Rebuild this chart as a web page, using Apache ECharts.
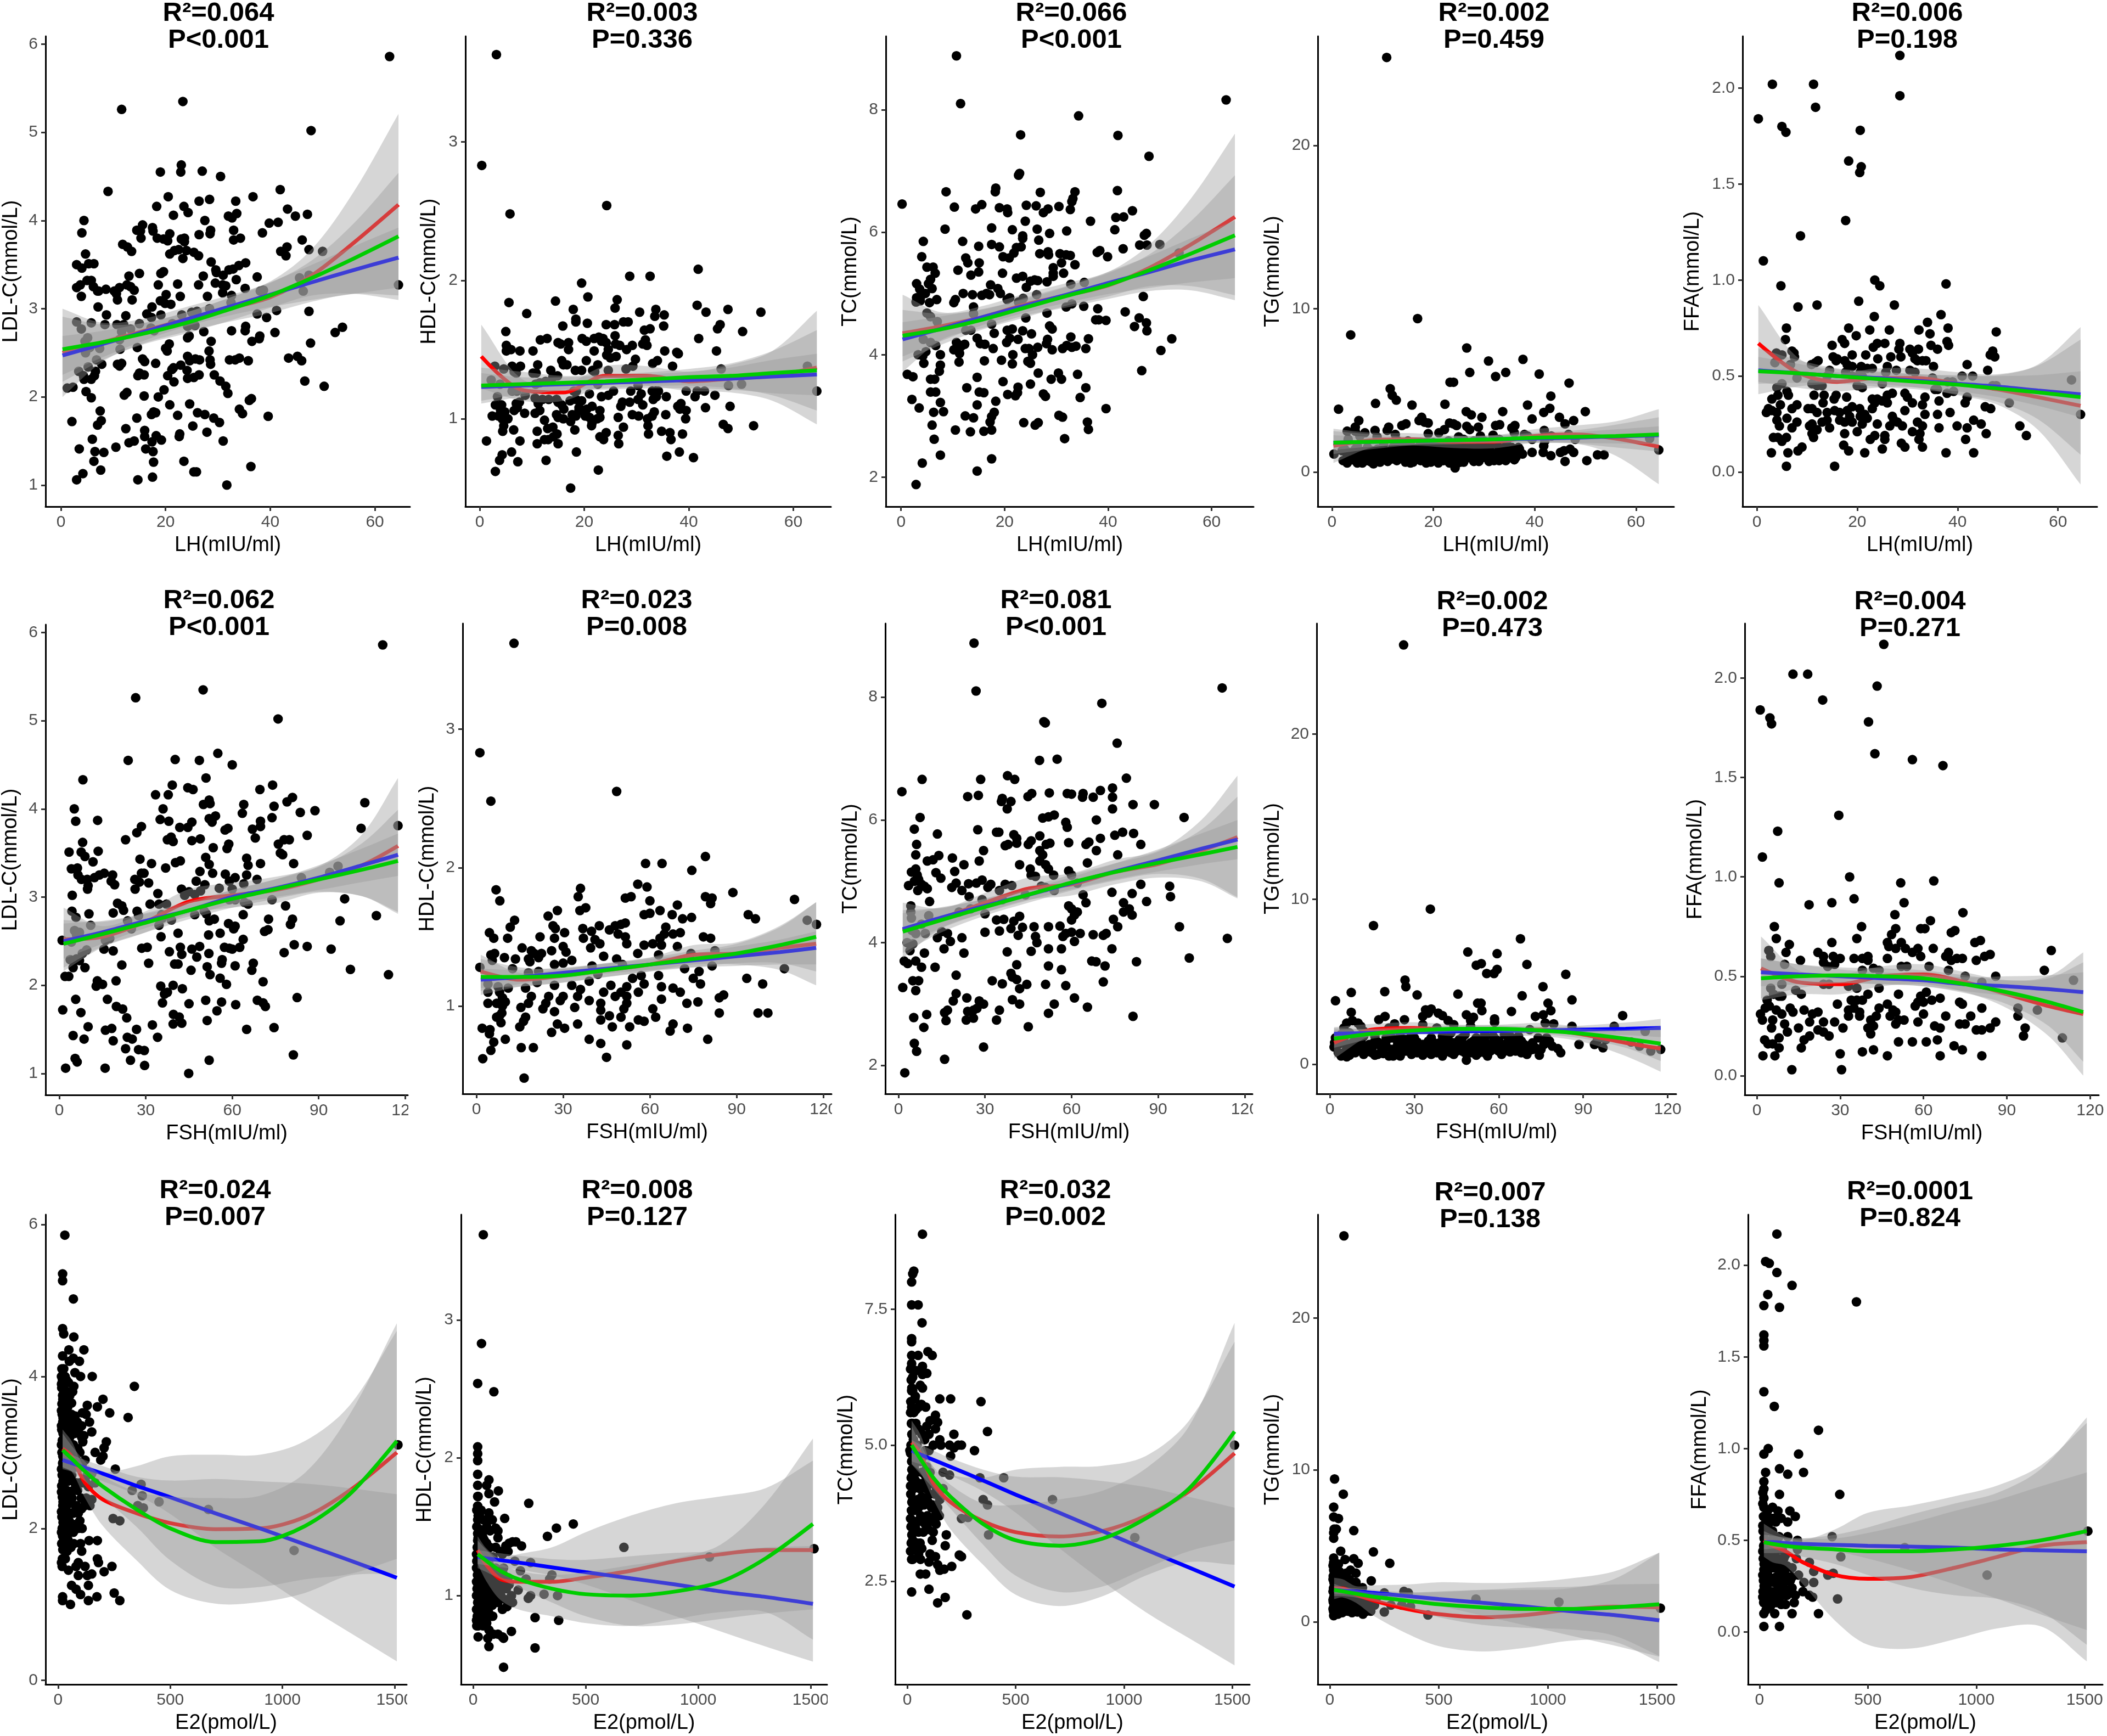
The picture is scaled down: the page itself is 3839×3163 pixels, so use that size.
<!DOCTYPE html>
<html>
<head>
<meta charset="utf-8">
<style>html,body{margin:0;padding:0;background:#fff}#main{width:3839px;height:3163px}</style>
<script src="https://cdn.jsdelivr.net/npm/echarts@6/dist/echarts.min.js"></script>
</head>
<body>
<div id="main"></div>
<script>
// x samples the fitted curves were read at
const lhX = [0.3,8,16,24,32,40,48,56,64.5];
const fshX = [1.5,15,30,45,60,75,90,105,117.5];
const e2X = [20,60,120,200,350,500,700,900,1100,1300,1510];

const lhTicks = [0,20,40,60];
const fshTicks = [0,30,60,90,120];
const e2Ticks = [0,500,1000,1500];

// scatter points, one list per panel
const lhLdl = [[62.8,5.86],[23.3,5.35],[11.6,5.26],[47.8,5.02],[23,4.63],[22.9,4.55],[19,4.55],[27,4.56],[30.5,4.5],[9,4.33],[41.9,4.35],[20.5,4.27],[36.7,4.27],[26.4,4.22],[28.4,4.24],[33.4,4.22],[18.3,4.16],[23.5,4.16],[24.3,4.09],[21.5,4.06],[32,4.05],[32.7,4.03],[33.6,4.08],[43.3,4.13],[44.8,4.05],[47.1,4.07],[4.4,4],[27.5,4],[39.8,3.97],[41.5,3.98],[15.6,3.95],[14.5,3.89],[17.5,3.92],[4,3.86],[15.2,3.88],[15.3,3.8],[17.6,3.88],[18.4,3.8],[19.6,3.79],[20.4,3.77],[20.8,3.85],[23,3.79],[23.6,3.8],[23.6,3.76],[26.4,3.84],[28.6,3.89],[28.5,3.85],[33,3.89],[33,3.78],[34.3,3.8],[38.5,3.86],[46.1,3.78],[11.8,3.73],[12.7,3.7],[13.5,3.65],[4.7,3.62],[20.8,3.62],[21.7,3.66],[22.5,3.67],[23.3,3.57],[24,3.66],[25.4,3.64],[26.3,3.6],[28.7,3.53],[42,3.65],[43.2,3.7],[43,3.6],[47.4,3.67],[50,3.65],[3,3.5],[4,3.46],[5.3,3.51],[6.3,3.51],[35.3,3.52],[34,3.49],[32.1,3.44],[32.9,3.45],[15,3.4],[19.1,3.4],[19.6,3.42],[13,3.37],[29.6,3.44],[29.7,3.41],[27.2,3.37],[31,3.38],[33.5,3.33],[37.5,3.36],[5,3.32],[5.8,3.32],[45.6,3.35],[47.4,3.38],[3,3.24],[3.7,3.27],[6.2,3.25],[7,3.2],[7.2,3.2],[8.6,3.22],[10.2,3.2],[11.2,3.24],[12.6,3.27],[13.3,3.25],[14,3.21],[18.6,3.27],[22.3,3.28],[26.3,3.27],[29.5,3.29],[30.9,3.27],[31.5,3.26],[35.2,3.23],[38.1,3.2],[38.7,3.21],[46.3,3.2],[64.5,3.27],[3.9,3.14],[10.6,3.17],[10.8,3.1],[13.6,3.1],[20.1,3.16],[22.8,3.14],[28,3.14],[30.9,3.18],[32.6,3.15],[19,3.09],[19.9,3.06],[21,3.05],[17.4,3.02],[7.1,3.02],[28.4,3],[32.5,3.07],[41.2,2.98],[47.4,2.97],[8.7,2.93],[12.4,2.92],[16.4,2.94],[17.3,2.9],[19.1,2.93],[23.1,2.93],[25,2.96],[26,2.97],[37.5,2.94],[39.3,2.9],[3,2.85],[5.8,2.84],[8.4,2.82],[10.7,2.82],[12,2.82],[15,2.83],[21.3,2.83],[35.3,2.8],[25.6,2.81],[24.2,2.8],[3.9,2.77],[11.6,2.74],[13.3,2.77],[17.2,2.78],[17.8,2.75],[27.3,2.74],[32.6,2.75],[35.2,2.75],[40.9,2.73],[52.4,2.73],[53.8,2.79],[24.5,2.69],[24.2,2.67],[4.6,2.63],[5.1,2.67],[11.2,2.65],[28.7,2.63],[36.5,2.63],[38,2.69],[37.9,2.66],[47.7,2.61],[20.7,2.6],[20,2.55],[20.3,2.52],[14.6,2.56],[5.5,2.56],[7.4,2.55],[11.3,2.54],[28.3,2.52],[4.7,2.5],[24.2,2.46],[24.6,2.41],[25.7,2.43],[26.5,2.42],[15.6,2.43],[16,2.4],[32.2,2.42],[33.3,2.42],[34.1,2.44],[35.8,2.41],[28.5,2.42],[43.5,2.44],[45.2,2.46],[46,2.41],[6.8,2.42],[7.8,2.37],[11.6,2.38],[10.8,2.37],[18.1,2.38],[28.6,2.37],[5.2,2.34],[11.2,2.35],[21.5,2.33],[21.2,2.31],[22.9,2.36],[24.1,2.3],[3.4,2.29],[6.4,2.24],[6.6,2.29],[4.3,2.24],[4.4,2.2],[5.8,2.2],[14.7,2.24],[15,2.27],[15.9,2.25],[20.4,2.24],[21.6,2.17],[24.2,2.21],[25.4,2.22],[26.4,2.25],[29.3,2.25],[30.4,2.18],[31.5,2.12],[46.6,2.18],[50.3,2.12],[1.2,2.1],[2.3,2.11],[4.8,2.06],[12.1,2.02],[12.6,2.05],[19.7,2.08],[31.9,2.04],[5.8,1.99],[15.9,2.01],[18.6,2],[36,1.96],[36.4,1.98],[20.8,1.91],[24.6,1.92],[2.1,1.72],[7.5,1.84],[17.3,1.8],[17.7,1.83],[18.1,1.82],[22.3,1.79],[26.1,1.82],[27.5,1.8],[34.1,1.86],[34.7,1.81],[39.6,1.78],[14.5,1.76],[29.2,1.76],[7,1.68],[7.7,1.73],[25.2,1.67],[30.3,1.71],[12.4,1.64],[16,1.62],[16,1.55],[22.7,1.58],[22.6,1.55],[18.2,1.56],[27.9,1.6],[6,1.52],[13,1.48],[14,1.5],[17.4,1.49],[19.2,1.51],[31,1.5],[10.5,1.43],[3.5,1.41],[6.5,1.38],[8.2,1.37],[16.2,1.41],[17.6,1.38],[6.3,1.27],[17.7,1.26],[23.5,1.27],[7.6,1.17],[36.3,1.21],[4.2,1.13],[3,1.06],[14.7,1.06],[17.5,1.09],[25.4,1.15],[25.9,1.15],[31.7,1]];
const lhHdl = [[3.2,3.63],[0.4,2.83],[5.8,2.48],[24.3,2.54],[41.8,2.08],[28.7,2.03],[32.6,2.03],[19.5,1.98],[5.6,1.84],[14.5,1.85],[20.7,1.88],[26.3,1.86],[25.9,1.8],[17.9,1.79],[33.7,1.79],[41.6,1.82],[43.3,1.77],[47.5,1.79],[53.8,1.77],[9,1.76],[30.6,1.77],[35.3,1.75],[33.5,1.74],[18.4,1.72],[18.4,1.7],[20.6,1.69],[24.2,1.68],[25.8,1.68],[27.5,1.7],[28.4,1.7],[15.9,1.67],[35.2,1.67],[46,1.68],[45.5,1.65],[31.5,1.64],[32.6,1.65],[50.3,1.63],[5,1.63],[25.9,1.6],[41.9,1.58],[11.6,1.57],[12.9,1.58],[19.6,1.58],[20.4,1.56],[21.9,1.58],[22.8,1.59],[23.6,1.58],[23.3,1.56],[24.2,1.55],[31.7,1.57],[15,1.55],[15.5,1.54],[17,1.55],[17,1.5],[26,1.54],[26.8,1.53],[28.1,1.5],[29.2,1.53],[31.2,1.54],[32,1.53],[5.1,1.53],[5.1,1.49],[6,1.5],[7.7,1.49],[10.2,1.49],[21.9,1.49],[35.4,1.49],[37.7,1.48],[38,1.47],[45.3,1.49],[24.6,1.5],[24.3,1.46],[25,1.44],[26.1,1.45],[29.8,1.43],[15.7,1.42],[16,1.39],[16.7,1.39],[20.4,1.42],[22.6,1.39],[33.1,1.4],[34,1.42],[6.2,1.38],[7.8,1.38],[11.1,1.39],[2.9,1.38],[4.6,1.36],[6.6,1.34],[7,1.33],[10.2,1.33],[10.8,1.33],[13.6,1.35],[18.3,1.35],[19.5,1.35],[21.6,1.35],[22,1.34],[24.6,1.35],[28,1.36],[29.3,1.38],[36.9,1.38],[46.2,1.36],[62.7,1.38],[2.2,1.28],[3.9,1.25],[6.2,1.2],[7.1,1.2],[8.7,1.17],[10.7,1.25],[11.5,1.26],[12.6,1.27],[14,1.3],[14.9,1.31],[18,1.2],[18.5,1.2],[21,1.18],[22.6,1.25],[23.3,1.16],[24.6,1.17],[25.6,1.2],[28.9,1.2],[30.3,1.24],[30.9,1.18],[33,1.2],[33.7,1.2],[34.2,1.2],[39.5,1.2],[41.6,1.2],[43,1.2],[47.6,1.24],[50.1,1.25],[64.5,1.2],[3.4,1.16],[10.6,1.15],[12,1.14],[13.2,1.14],[14.7,1.14],[17.3,1.13],[18.4,1.14],[19.5,1.13],[30.3,1.14],[33.2,1.14],[33.8,1.16],[35.7,1.16],[41.2,1.16],[45,1.17],[3,1.1],[4.2,1.1],[7,1.11],[7.6,1.12],[11.2,1.11],[15,1.12],[15.7,1.1],[19,1.08],[21.5,1.09],[27.3,1.12],[27,1.09],[28.7,1.12],[31.2,1.1],[37.9,1.09],[38.5,1.11],[38.3,1.07],[43.2,1.08],[47.9,1.09],[4,1.06],[4.8,1.05],[6.6,1.06],[7.2,1.08],[8.6,1.04],[10.6,1.04],[11.5,1.06],[16.1,1.07],[19,1.06],[20.5,1.07],[23,1.06],[33.4,1.05],[39.5,1.06],[2.4,1.02],[3.6,1.02],[4.3,1],[5.4,1],[14.7,1.03],[15,1.01],[16,1],[17.7,1.03],[18.4,1.02],[20.2,1.02],[21,1.01],[23,1.01],[26.5,1.01],[29.2,1.03],[30.4,1.02],[32.1,1],[33,1.02],[35.6,1.03],[39.4,1],[12.4,0.99],[17.4,0.98],[21.5,0.97],[21.4,0.95],[22.5,1],[4.6,0.95],[32.2,0.95],[46.6,0.96],[47.5,0.93],[52.4,0.95],[14,0.94],[13,0.93],[6.5,0.92],[11,0.91],[4.4,0.91],[18.2,0.92],[14.8,0.89],[14.1,0.87],[24.2,0.9],[23,0.87],[23.7,0.85],[26.5,0.88],[27.5,0.94],[32.3,0.89],[34.8,0.91],[36.4,0.9],[36.6,0.85],[38.8,0.89],[1.3,0.84],[7.7,0.84],[11,0.82],[12.4,0.85],[13.1,0.85],[15,0.82],[26.6,0.82],[6.1,0.76],[18.5,0.76],[4.3,0.74],[3.8,0.7],[7.3,0.69],[12.7,0.7],[35.8,0.73],[38.2,0.76],[40.9,0.72],[3,0.62],[22.7,0.63],[17.4,0.5]];
const lhTc = [[10.7,8.88],[11.5,8.1],[34.3,7.9],[62.8,8.16],[23.1,7.59],[41.9,7.58],[47.9,7.24],[22.9,6.96],[22.7,6.93],[18.3,6.72],[18.2,6.66],[8.7,6.66],[26.9,6.65],[33.6,6.66],[41.8,6.68],[0.2,6.46],[10.3,6.41],[15.6,6.45],[14.4,6.38],[19,6.4],[20.5,6.38],[20.6,6.32],[24.2,6.44],[26.1,6.43],[27.5,6.32],[28.4,6.38],[30.5,6.42],[32.7,6.37],[33,6.5],[33.2,6.55],[44.7,6.35],[43,6.25],[41.5,6.24],[24,6.18],[36.6,6.18],[17.5,6.07],[21.5,6.04],[26.3,6.05],[32,6.02],[28.7,5.98],[8.5,6.05],[41.3,6.04],[47.4,5.98],[47,5.95],[23.5,5.94],[23.5,5.9],[26.6,5.87],[4.3,5.85],[11.9,5.85],[17.5,5.8],[19,5.76],[15,5.77],[23.2,5.76],[22.3,5.75],[21.8,5.66],[20.9,5.58],[19.7,5.6],[26.8,5.65],[28.4,5.68],[28.5,5.63],[30.7,5.65],[31.9,5.63],[32.7,5.62],[37.9,5.67],[38.4,5.7],[39.9,5.6],[42.9,5.73],[46.1,5.79],[47.5,5.79],[50,5.8],[53.7,5.66],[4,5.6],[12.5,5.58],[12.9,5.5],[15.1,5.5],[31,5.5],[33.6,5.47],[29.4,5.42],[5,5.43],[6.2,5.43],[11,5.38],[6.6,5.33],[15,5.35],[19.6,5.33],[31.4,5.33],[29.4,5.33],[29.4,5.28],[13.5,5.3],[22.3,5.25],[23.5,5.28],[5.7,5.23],[5.3,5.16],[3,5.16],[25,5.2],[25.8,5.22],[26.4,5.21],[28.2,5.19],[32.8,5.15],[35.4,5.18],[17.3,5.14],[18.7,5.08],[6,5.08],[3.6,5.07],[24.2,5.1],[19.2,5],[12,5],[13.8,4.98],[16.5,5],[15.6,4.97],[17.1,4.98],[4.7,5],[3,4.93],[3.7,4.92],[26.2,4.98],[20.5,4.9],[21,4.93],[10.5,4.9],[10.2,4.85],[6.9,4.9],[2.9,4.86],[3.7,4.88],[5.5,4.85],[22.7,4.86],[23.6,4.92],[35.3,4.79],[33,4.83],[31.9,4.78],[38,4.75],[14,4.78],[5,4.68],[14,4.67],[28.2,4.68],[5.7,4.62],[24.1,4.6],[46,4.6],[43.3,4.7],[46.8,4.95],[37.6,4.57],[38.2,4.57],[39.6,4.56],[47.4,4.52],[17.5,4.5],[7,4.54],[28.7,4.47],[45.1,4.46],[47.5,4.39],[29.2,4.42],[23.5,4.39],[21.5,4.42],[20.5,4.4],[12.5,4.4],[13.5,4.4],[18,4.35],[25.2,4.34],[14.7,4.27],[21,4.27],[22.6,4.25],[28.3,4.25],[28.1,4.18],[32.8,4.29],[36.2,4.26],[52.3,4.26],[4.3,4.25],[5.7,4.2],[6.7,4.15],[10.7,4.2],[11.8,4.15],[12.3,4.17],[15.3,4.18],[16.2,4.17],[20.4,4.2],[17.8,4.1],[24,4.1],[24.7,4.1],[26.4,4.12],[31.2,4.1],[32,4.15],[33,4.12],[33.8,4.14],[35.7,4.1],[10.2,4.08],[11.2,4.08],[11.3,4.02],[4.8,4.05],[3.3,4],[4.2,3.98],[7.6,4],[21.6,4],[25.4,4],[29.2,4.08],[50.2,4.07],[16.1,3.9],[19.4,3.91],[24.5,3.89],[25,3.86],[11.2,3.88],[7.6,3.83],[4.4,3.86],[21.5,3.85],[7.4,3.73],[46.5,3.74],[1.2,3.68],[2.3,3.64],[26.5,3.7],[30.4,3.7],[5.7,3.6],[6.5,3.6],[14.7,3.63],[19.7,3.56],[29,3.6],[31,3.6],[25,3.52],[34.1,3.68],[12.7,3.46],[22.6,3.47],[35.7,3.46],[5.7,3.39],[6.7,3.39],[15.1,3.39],[16,3.38],[22.5,3.38],[22.1,3.33],[20.6,3.35],[27.5,3.36],[27.9,3.32],[2.1,3.27],[34.6,3.3],[7.6,3.22],[14.7,3.18],[18.3,3.24],[3.5,3.13],[6.3,3.06],[8.2,3.07],[12.4,3],[18,3.06],[17.5,2.99],[30.5,3.01],[31.2,2.98],[39.6,3.12],[14,2.97],[17.2,2.9],[6,2.85],[23.7,2.89],[25.9,2.85],[26.5,2.89],[36,2.9],[36.2,2.78],[10.5,2.77],[13.4,2.74],[16,2.75],[17.5,2.77],[31.6,2.63],[6.4,2.62],[7.6,2.36],[17.5,2.3],[4.1,2.23],[14.7,2.1],[2.9,1.88]];
const lhTg = [[10.8,25.4],[16.9,9.4],[3.7,8.4],[26.6,7.6],[30.9,6.8],[37.7,6.9],[27.2,6.1],[34.3,6.1],[32.3,5.85],[40.9,6],[23.3,5.5],[24,5.5],[46.8,5.45],[11.5,5.1],[11.9,4.7],[12.7,4.4],[43.2,4.65],[8.6,4.2],[15.8,4.1],[22.3,4.15],[38.6,4.1],[43,3.9],[1.3,3.85],[26.5,3.7],[27.5,3.5],[33.7,3.7],[41.8,3.65],[50,3.7],[29.6,3.35],[17.7,3.35],[17.2,3.15],[18.3,3.05],[19,3],[5.3,3.15],[39.5,3.25],[44.9,3.35],[47.7,3.15],[14.6,2.95],[13.8,2.85],[23.2,3],[24,2.95],[24.6,2.85],[26.6,2.8],[27.2,2.6],[28.9,2.75],[32.3,2.85],[33.1,2.9],[36.1,2.85],[35.5,2.7],[46,2.95],[11.2,2.75],[10.9,2.55],[8.5,2.55],[3,2.5],[4.6,2.5],[4.6,2.75],[6.5,2.4],[22.2,2.6],[21.1,2.4],[19,2.35],[41.9,2.55],[36,2.4],[12.5,2.3],[38.6,2.2],[31.8,2.25],[29.3,2.2],[25,2.15],[3.2,2],[5.5,2.2],[8.9,2.15],[0.4,1.1],[2.2,0.7],[3,0.55],[4.2,1],[5,0.55],[5.5,1],[6.5,0.9],[7,0.7],[7.8,0.6],[8.6,1.1],[9,0.9],[10.2,0.85],[11,1.2],[12,1],[13.2,1.3],[14,0.85],[14.5,0.6],[15,0.8],[16,0.6],[16.5,1.1],[17.5,0.7],[18,1.1],[19,0.9],[19.5,0.6],[20.5,0.9],[21,0.55],[22,0.7],[23,1.1],[23.7,0.75],[24.3,0.25],[24.8,0.55],[25.5,0.9],[26,0.6],[27,1.2],[27.5,0.85],[29,0.65],[29.5,1.3],[30.5,1.1],[31,0.65],[32,0.7],[32.5,1],[33.5,1.2],[34.3,0.7],[35,0.9],[36,0.75],[36.5,1.1],[37.6,1.1],[39.5,1.2],[41.7,1.2],[43.2,1],[45.1,1.2],[46,0.65],[47.7,1.2],[50.3,0.7],[52.4,1.05],[53.7,1.05],[64.5,1.35],[62.7,2.05],[2.5,1.4],[5,1.6],[7,1.5],[8,1.3],[10.2,1.7],[12,1.5],[14,1.5],[15.5,1.3],[17,1.5],[18,1.4],[20,1.3],[21.5,1.4],[22.5,1.6],[24,1.4],[25,1.7],[26.4,1.5],[28,1.5],[29,1.6],[30,1.4],[31.5,1.7],[33,1.5],[34,1.4],[35.5,1.5],[36.8,1.5],[41.8,1.6],[47,1.4],[45.8,1.3],[2,1.3],[3.5,1.2],[6,1.25],[9.5,1.3],[15,1],[16,1.2],[19,1.2],[20.5,1.1],[22,1],[24,1],[25,1.1],[27,1],[28.5,0.9],[30,0.9],[31.5,1.2],[33,1],[35,1.25],[14,1.15],[12,1.15],[11,1],[6,0.75],[5,1.3],[13,1.9],[15,1.9],[17.5,1.8],[20,1.8],[23,1.9],[26,2],[28,1.9],[30,1.9],[33,2],[39.5,2],[42,1.9],[46.7,2.3],[43.3,2.2],[48,2],[38,2.3],[3.5,0.9],[4.6,1.4],[6,0.55],[7.5,1.1],[8.2,0.5],[9.5,0.6],[10.5,1.3],[11.8,0.8],[12.8,0.7],[13.5,1],[14.5,1.3],[15.5,0.55],[16.3,0.8],[17,1],[17.8,1.3],[18.6,0.55],[19.3,1.5],[20.2,0.7],[21,1.2],[21.8,0.85],[22.6,1.3],[23.2,0.55],[24,0.55],[24.6,1.2],[25.3,0.6],[25.9,1.3],[26.6,0.85],[28,0.65],[28.6,1.25],[29.8,1],[31,1.4],[32,1.05],[33,0.7],[33.8,0.85],[34.8,1.05],[35.5,1.1],[36.3,0.9],[37,1.4],[13.5,1.7],[15.5,1.7],[19,1.65],[21,1.7],[23.5,1.6],[27.5,1.7],[30,1.7],[32.5,1.7],[34.5,1.7],[14.5,0.9],[16,0.95],[18.5,0.75],[20.2,1.25],[22.7,0.7],[25,0.8],[26.8,1.05],[8,0.85],[9,1.4],[10,1.1],[11,0.65],[4,0.75],[3,1.05]];
const lhFfa = [[28.5,2.17],[3.1,2.02],[11.3,2.02],[28.5,1.96],[11.7,1.9],[0.3,1.84],[5,1.8],[5.8,1.77],[20.6,1.78],[18.3,1.62],[20.8,1.59],[20.5,1.56],[17.7,1.31],[8.7,1.23],[1.3,1.1],[23.5,1],[24.5,0.97],[4.8,0.97],[37.7,0.98],[20.3,0.89],[27.4,0.87],[12,0.87],[8.2,0.86],[23.4,0.81],[36.7,0.82],[34,0.78],[5.9,0.75],[18.3,0.75],[22.5,0.74],[26.4,0.74],[32.3,0.74],[38.1,0.75],[47.7,0.73],[19.8,0.71],[34.5,0.72],[5.7,0.69],[17,0.69],[17.5,0.67],[15,0.66],[23.2,0.65],[24,0.67],[25.5,0.67],[28.5,0.67],[34.7,0.66],[36,0.64],[37.9,0.68],[38.2,0.66],[30.5,0.64],[31,0.62],[32.2,0.64],[28.3,0.64],[7,0.63],[7.5,0.6],[3.9,0.62],[5,0.61],[7.4,0.62],[15.2,0.6],[15.8,0.58],[16,0.59],[19,0.61],[21.7,0.61],[24.1,0.59],[26.7,0.6],[28.7,0.6],[47,0.63],[46.5,0.61],[47.4,0.6],[32,0.58],[33,0.58],[33.7,0.58],[31.5,0.59],[12.2,0.58],[11.7,0.57],[17.5,0.58],[18,0.56],[3.6,0.57],[6.7,0.56],[10.9,0.56],[19,0.55],[20.8,0.55],[22,0.54],[23,0.54],[26,0.55],[35.2,0.55],[41.9,0.56],[46,0.53],[14.5,0.53],[17.7,0.52],[20.6,0.52],[25.7,0.52],[27.8,0.53],[30.5,0.53],[31.5,0.52],[40.9,0.5],[43,0.5],[14,0.5],[19,0.5],[21,0.5],[35,0.49],[8,0.49],[38,0.47],[39,0.47],[47,0.45],[47.7,0.45],[62.7,0.48],[4,0.44],[5,0.46],[6,0.42],[11,0.46],[12,0.45],[13,0.45],[20,0.45],[21,0.44],[25,0.46],[35.5,0.43],[36,0.43],[39.2,0.42],[6.3,0.4],[4.2,0.4],[11.4,0.4],[13.4,0.4],[15.8,0.4],[17.9,0.39],[24,0.38],[26,0.4],[27,0.41],[29.5,0.41],[30,0.39],[23,0.38],[33.5,0.39],[37.9,0.41],[41.9,0.39],[3,0.38],[15.4,0.38],[23.5,0.36],[36.3,0.37],[25,0.37],[26,0.36],[10.2,0.33],[13.2,0.36],[11,0.33],[7,0.33],[8,0.35],[4.7,0.35],[31,0.36],[33,0.35],[41.5,0.36],[50.3,0.36],[2.3,0.33],[3,0.32],[1.9,0.31],[4,0.31],[12,0.31],[14,0.31],[15.5,0.32],[16.5,0.31],[18,0.32],[19,0.34],[20.5,0.33],[23,0.33],[29.5,0.32],[38.5,0.31],[45.5,0.34],[46.6,0.33],[64.5,0.3],[6,0.28],[4,0.27],[16.5,0.27],[18.5,0.29],[20.6,0.29],[21.5,0.3],[14,0.27],[27,0.29],[33.5,0.3],[36,0.3],[8,0.26],[11,0.25],[13,0.26],[17.5,0.26],[19,0.26],[21,0.25],[22,0.28],[24,0.25],[27.3,0.27],[28,0.26],[4.5,0.24],[7,0.23],[10.5,0.24],[12,0.22],[14.5,0.23],[20,0.21],[26.5,0.24],[29,0.24],[32,0.26],[33,0.24],[36.3,0.23],[39.9,0.24],[41.9,0.23],[43.2,0.27],[44.7,0.25],[52.4,0.24],[11,0.2],[3.3,0.18],[4.2,0.18],[17.5,0.2],[23.5,0.19],[25.5,0.19],[31,0.21],[32.5,0.2],[45.7,0.2],[53.7,0.19],[5,0.16],[5.9,0.18],[11.3,0.18],[22.6,0.17],[25.5,0.17],[32.3,0.17],[41.6,0.17],[17.3,0.14],[28.8,0.15],[9,0.13],[8.2,0.11],[2.9,0.1],[6.2,0.1],[18.3,0.11],[21.5,0.1],[25,0.12],[29.5,0.13],[33,0.13],[37.7,0.1],[43.2,0.1],[5.9,0.03],[15.5,0.03]];
const fshLdl = [[112.2,5.86],[49.9,5.35],[26.5,5.26],[75.9,5.02],[55,4.63],[60,4.5],[23.9,4.55],[40.2,4.56],[48.6,4.55],[50.9,4.35],[8.2,4.33],[39.2,4.27],[44.6,4.24],[46.4,4.22],[69.6,4.22],[74,4.27],[33.4,4.16],[37.8,4.16],[80.9,4.13],[79,4.08],[52,4.1],[50,4.05],[52.3,4.06],[64,4.05],[74.5,4.03],[106,4.07],[5.2,4],[36,4],[35,3.88],[38,3.86],[54.2,3.92],[52,3.89],[53,3.85],[63.5,3.95],[83.6,3.96],[88.7,3.98],[13.3,3.87],[5.7,3.86],[46,3.85],[69.8,3.86],[73.8,3.9],[67,3.77],[41.8,3.79],[44.6,3.79],[28.5,3.8],[26.9,3.73],[57.5,3.76],[58.5,3.78],[69.8,3.8],[104.7,3.78],[117.5,3.81],[23,3.65],[37.5,3.65],[38.8,3.68],[39.5,3.63],[46,3.64],[48.9,3.66],[68,3.67],[76,3.6],[78,3.65],[79.8,3.65],[86,3.7],[8.1,3.62],[58.8,3.6],[58.2,3.55],[53.4,3.56],[3.4,3.51],[13.5,3.52],[7.6,3.51],[8.9,3.46],[50.8,3.45],[76.7,3.5],[77.5,3.48],[65,3.44],[28,3.43],[11.7,3.4],[40.3,3.39],[42,3.41],[32,3.38],[52,3.37],[65.5,3.36],[69.8,3.38],[81.3,3.38],[96.7,3.35],[4.2,3.32],[6.3,3.33],[36.9,3.33],[29.4,3.27],[28.5,3.27],[48.8,3.29],[53.2,3.27],[13.9,3.25],[12.2,3.22],[15.6,3.27],[18.5,3.25],[57.6,3.26],[61,3.22],[65,3.25],[68.6,3.2],[84,3.22],[93.8,3.28],[6.5,3.25],[7.7,3.2],[9.7,3.2],[18,3.18],[26.2,3.2],[27.8,3.17],[31,3.16],[47.5,3.18],[59,3.18],[64,3.15],[50.5,3.14],[10,3.13],[19.2,3.14],[9.8,3.09],[26.3,3.09],[34.2,3.04],[4.5,3.02],[42.4,3.09],[55.5,3.1],[60,3.09],[43.5,3.02],[45,3.06],[47,3.03],[49,3.07],[73.8,2.97],[99,2.98],[20.2,2.93],[21.7,2.9],[31.5,2.92],[34.6,2.92],[37.2,2.92],[59,2.97],[61,2.97],[64.2,2.94],[65.5,2.92],[78.5,2.9],[22.3,2.85],[4.4,2.84],[10.3,2.81],[18.7,2.82],[27,2.84],[27.5,2.79],[35.5,2.8],[47,2.8],[50.3,2.84],[51,2.81],[63.8,2.8],[35.7,2.76],[38.9,2.74],[5.8,2.77],[23.7,2.73],[52,2.73],[53.8,2.75],[72.6,2.75],[80.9,2.75],[97.4,2.73],[110,2.79],[10.9,2.68],[25,2.64],[34.6,2.68],[58.7,2.7],[61,2.67],[60.5,2.64],[80.2,2.69],[5.3,2.62],[7,2.6],[72.4,2.63],[71.2,2.61],[41.2,2.59],[55.8,2.59],[51.8,2.57],[35.3,2.55],[6,2.57],[1,2.51],[4.2,2.49],[16,2.51],[17.5,2.53],[63.8,2.52],[28.6,2.42],[30.5,2.43],[42,2.43],[46,2.41],[48.7,2.44],[57.3,2.43],[59,2.42],[60,2.41],[62.6,2.43],[81.5,2.46],[86,2.44],[94.3,2.41],[15.5,2.41],[18.7,2.39],[38.2,2.38],[42.5,2.35],[51.9,2.36],[78,2.37],[3.8,2.29],[5,2.27],[6,2.3],[7,2.28],[8,2.36],[9.5,2.4],[47.7,2.32],[56.5,2.29],[56.3,2.25],[31,2.25],[21.7,2.23],[40,2.24],[41.2,2.24],[51.3,2.21],[61,2.22],[67.3,2.25],[8.9,2.2],[4.8,2.2],[45.7,2.17],[66.8,2.17],[101,2.18],[2,2.1],[3.3,2.1],[52.3,2.12],[114.2,2.12],[13.2,2.05],[13.5,2.03],[19.7,2.05],[55.8,2.08],[70.7,2.04],[12.8,1.99],[15,2.01],[35.2,1.99],[39.5,2],[58,2.01],[42.7,1.96],[36.5,1.9],[37.5,1.92],[5.7,1.84],[16.7,1.84],[50.8,1.83],[68.7,1.83],[82.5,1.86],[35.8,1.8],[45,1.79],[56.3,1.81],[61.2,1.78],[70.7,1.8],[19.8,1.76],[71.5,1.76],[1.2,1.72],[22,1.73],[54.7,1.71],[7.5,1.69],[39.6,1.67],[41.6,1.64],[23.4,1.63],[51.3,1.6],[39.5,1.56],[42.5,1.57],[32.3,1.55],[10,1.53],[26.8,1.5],[16,1.49],[18.2,1.51],[65,1.5],[74.5,1.52],[4.8,1.43],[8.6,1.39],[18.7,1.37],[23.6,1.41],[25.3,1.39],[34.1,1.41],[23,1.28],[27.5,1.27],[29.5,1.26],[5.5,1.17],[6.2,1.13],[24.7,1.15],[52,1.15],[81.2,1.21],[2.2,1.06],[15.9,1.06],[29.6,1.09],[44.9,1]];
const fshHdl = [[13,3.62],[1.2,2.83],[5,2.48],[48.5,2.55],[79.2,2.08],[58.5,2.03],[64.2,2.03],[74.5,1.98],[55.8,1.88],[59,1.86],[6.8,1.84],[36,1.85],[35.2,1.79],[8.1,1.76],[51.5,1.78],[53.5,1.79],[60,1.76],[79.2,1.79],[81.5,1.78],[81,1.74],[88.7,1.82],[110,1.77],[69.5,1.73],[37.8,1.71],[35.8,1.69],[28,1.69],[24.8,1.65],[58,1.66],[60,1.67],[63.5,1.69],[67.7,1.66],[71.3,1.63],[74.4,1.64],[94,1.66],[96.5,1.63],[114.4,1.62],[117.6,1.59],[13.2,1.62],[48,1.58],[50,1.59],[51.5,1.6],[26.5,1.58],[27.3,1.56],[30.5,1.53],[36.8,1.56],[39.8,1.54],[42.5,1.58],[46,1.55],[49,1.52],[65.5,1.57],[11.7,1.57],[4.5,1.53],[6,1.49],[10.8,1.49],[22,1.5],[27,1.49],[37,1.49],[41,1.48],[51.5,1.5],[68,1.52],[70.5,1.53],[63.5,1.49],[65,1.52],[78.5,1.5],[81,1.49],[15.8,1.42],[19,1.4],[22.5,1.38],[26,1.4],[30,1.43],[39.5,1.42],[42.7,1.45],[52,1.45],[58,1.44],[61,1.45],[64,1.44],[69.5,1.43],[74.2,1.38],[82.5,1.4],[5,1.37],[6.3,1.38],[9.7,1.35],[13.5,1.34],[18,1.34],[20,1.38],[21.5,1.35],[31,1.39],[33,1.33],[44,1.36],[48.5,1.34],[55.8,1.38],[63,1.37],[5.5,1.33],[18.5,1.32],[27,1.3],[30,1.31],[40,1.29],[50.5,1.3],[81.5,1.29],[106.5,1.27],[1.2,1.28],[12.5,1.27],[18,1.24],[21.5,1.25],[42,1.23],[54,1.2],[57,1.22],[63,1.22],[72,1.27],[75,1.2],[77,1.25],[93.5,1.2],[7.5,1.14],[4,1.16],[21,1.17],[27,1.15],[33,1.15],[39,1.18],[46.5,1.15],[52,1.14],[58,1.16],[64,1.14],[77.5,1.16],[99,1.16],[4,1.1],[8,1.1],[11,1.13],[17,1.13],[36,1.12],[44,1.1],[50,1.1],[56,1.1],[68,1.13],[70.5,1.1],[9,1.06],[19,1.07],[25,1.07],[30,1.07],[35,1.07],[48,1.07],[52,1.07],[85.5,1.08],[84,1.06],[4,1.02],[7,1.02],[10,1.03],[18,1.02],[24,1.02],[29,1.04],[39,1.04],[43,1.02],[52,1.02],[64,1.05],[72.8,1.02],[76.6,1.03],[9,1],[15.4,0.99],[23,0.98],[34,0.99],[43,0.97],[51,0.98],[61,0.98],[8,0.93],[8.8,0.95],[7,0.92],[17,0.92],[27,0.96],[46,0.93],[43,0.9],[50,0.92],[56,0.9],[62,0.92],[84,0.95],[97.4,0.95],[100.8,0.95],[8.5,0.88],[2,0.84],[4.7,0.83],[16.3,0.89],[15,0.85],[28,0.87],[30.5,0.84],[35,0.87],[53,0.85],[58,0.89],[68,0.87],[67,0.82],[73,0.84],[26,0.81],[47,0.85],[4.5,0.8],[10,0.76],[39,0.76],[43,0.73],[52,0.72],[80,0.76],[5,0.68],[6,0.74],[15.5,0.7],[19.7,0.7],[2.2,0.62],[45,0.63],[16.5,0.48]];
const fshTc = [[26.2,8.88],[26.9,8.1],[112.2,8.15],[70.5,7.9],[50.4,7.6],[50.9,7.58],[75.8,7.25],[48.9,6.97],[55,6.99],[8.2,6.66],[28.5,6.66],[37.8,6.72],[40.3,6.66],[79,6.68],[1.2,6.46],[24,6.38],[27.7,6.4],[36,6.35],[35.7,6.3],[39,6.3],[37.7,6.18],[44.9,6.38],[46.2,6.43],[52.3,6.44],[58.5,6.43],[60,6.42],[64,6.43],[63.8,6.37],[67.5,6.37],[70,6.48],[74.2,6.52],[74.2,6.37],[74.2,6.18],[81.3,6.25],[88.7,6.25],[7.5,6.04],[50,6.03],[52,6.05],[54,6.08],[58,5.96],[58.5,5.88],[68.6,6],[99,6.04],[5.5,5.85],[27.5,5.84],[34,5.8],[34.8,5.8],[40,5.76],[41,5.7],[13.5,5.77],[49,5.74],[75,5.75],[77.7,5.8],[81.5,5.78],[70,5.7],[6.3,5.6],[37,5.58],[38,5.6],[41,5.62],[45,5.6],[46,5.66],[51.2,5.6],[52.5,5.62],[59,5.63],[65,5.6],[66,5.64],[84,5.6],[6,5.43],[29.5,5.5],[49,5.5],[50,5.43],[14,5.42],[10,5.33],[12,5.35],[18.7,5.38],[28,5.33],[65.5,5.3],[68.6,5.5],[76,5.43],[22.7,5.27],[42,5.27],[49,5.33],[51,5.27],[52,5.2],[6,5.2],[4.5,5.15],[6.5,5.1],[13,5.14],[19.5,5.16],[45.7,5.2],[46,5.1],[47.5,5.08],[53.8,5.1],[59,5.17],[60,5.1],[14.7,5.05],[5.5,5],[7,5.03],[8,4.95],[20,4.97],[22,4.85],[24.3,4.96],[27,4.97],[29,5.02],[31,4.9],[32,4.95],[37,4.95],[39.3,4.93],[49.5,4.92],[51,4.9],[54,4.85],[62,4.97],[3.5,4.93],[6.7,4.85],[9,4.92],[10,4.88],[18.5,4.9],[24.5,4.75],[29,4.7],[35,4.85],[36,4.7],[44,4.78],[74,4.82],[81,4.8],[84,4.95],[94,4.92],[94.3,4.75],[10.8,4.67],[64,4.78],[65,4.65],[78,4.65],[86,4.67],[4.3,4.6],[4.3,4.5],[59,4.6],[60,4.55],[78,4.5],[80,4.55],[10.5,4.44],[21,4.5],[25,4.55],[30,4.47],[42,4.43],[61,4.45],[62,4.5],[81,4.45],[4.5,4.4],[60,4.37],[34,4.37],[36.5,4.38],[40,4.35],[74.5,4.38],[4.7,4.2],[8,4.3],[15,4.18],[30,4.17],[35,4.19],[39,4.23],[43,4.25],[47,4.26],[52,4.26],[56,4.27],[6,4.15],[9.3,4.15],[17,4.15],[41.5,4.12],[47.5,4.1],[58,4.15],[60,4.17],[63,4.15],[67.5,4.13],[71,4.12],[76,4.26],[97.4,4.26],[13.5,4.08],[18,4.02],[22,4.08],[48,4],[57,4.1],[61,4.02],[72,4.15],[114,4.07],[3,4],[5,3.98],[4,3.87],[15.8,3.9],[9,3.83],[22.7,3.83],[37.7,3.85],[46,3.86],[52,3.9],[56.5,3.9],[74,3.9],[2,3.7],[3.2,3.66],[6,3.7],[8,3.6],[12.7,3.6],[41,3.64],[52,3.62],[56.5,3.56],[67,3.7],[68.5,3.69],[71.6,3.62],[82.5,3.69],[100.8,3.75],[39,3.5],[20,3.47],[39.5,3.44],[41,3.4],[1.5,3.27],[5,3.38],[7,3.38],[32.5,3.38],[36,3.33],[44.5,3.32],[51,3.32],[58,3.3],[71,3.36],[6,3.22],[39.5,3.07],[20,3.17],[42,3.25],[42,3],[19,3.05],[23.7,3.1],[28,3.05],[29.5,3],[54,3],[61,3.1],[65.5,2.95],[17,2.9],[16,2.86],[24,2.88],[26,2.9],[27.2,2.93],[35,2.9],[52,2.85],[9.8,2.83],[5.3,2.78],[16.5,2.73],[23.5,2.74],[26,2.77],[34,2.74],[81.3,2.8],[8.8,2.62],[45,2.63],[5.5,2.36],[6.3,2.23],[29.5,2.3],[16,2.1],[2.2,1.88]];
const fshTg = [[26.2,25.4],[35.7,9.4],[15.5,8.4],[67.7,7.6],[49,6.8],[59.4,6.7],[52,6],[53.8,6.1],[70,6.05],[59.4,5.75],[55.7,5.5],[58.3,5.5],[83.8,5.45],[26.7,5.1],[27,4.7],[75.7,4.7],[19.5,4.4],[7.6,4.35],[31,4.2],[45.5,4.25],[68.3,4.15],[2,3.85],[86,3.9],[52.5,3.7],[53.7,3.7],[77.5,3.7],[36,3.35],[34,3.3],[64.5,3.2],[78.5,3.25],[7.6,3.15],[38.5,3.1],[40,2.95],[48.5,3],[51,2.85],[54,3.25],[75.8,3],[73,2.9],[19.6,2.9],[35,3.1],[104,2.95],[17.4,2.7],[26.5,2.7],[33,2.9],[42,2.65],[50,2.65],[58.5,2.75],[58.5,2.55],[76.5,2.5],[79.5,2.45],[6,2.5],[8,2.65],[10,2.5],[23,2.45],[33,2.4],[44,2.4],[86,2.3],[101,2.3],[5,2.2],[11,2.3],[21,2.2],[38,2.2],[50,2.3],[71,2.1],[112,2],[2,1.6],[4,1.8],[7,1.9],[12,2],[16,1.7],[20,1.6],[25,1.7],[29,1.8],[36,1.6],[43,1.9],[48,1.8],[55,1.8],[62,1.8],[67,1.7],[74,1.6],[77,1.6],[95,1.45],[98,1.5],[1.7,1.3],[1.5,1.05],[3,1.2],[5,0.7],[6,0.45],[7,0.9],[9,1.15],[11,1],[13,0.75],[14,1.2],[15,0.7],[17,1.35],[17,0.6],[19,0.9],[20,1.4],[22,0.9],[22.5,0.5],[24,0.7],[26,1.1],[27,1.5],[28,0.9],[30,1.1],[31,0.7],[33,0.55],[34,1],[35,1.4],[37,0.9],[38,0.7],[40,1.2],[41,0.75],[42,1.5],[43,1],[44,0.6],[45,1.2],[46,1.5],[47,0.8],[48.5,0.25],[50,1.3],[51,0.9],[52,0.55],[53,1.1],[54,0.9],[55,1.5],[56,0.5],[57,1.2],[59,1.5],[60,0.8],[61,1.1],[62,0.8],[63,1.3],[64,0.75],[65,0.9],[66,1.2],[70,1],[71,0.85],[74.4,0.55],[78,1.4],[79,1.1],[81,0.95],[82,0.7],[88.5,1.2],[94,1.2],[97,1],[107,1.35],[110,1.1],[114,0.8],[117.5,0.9],[9,1.6],[24,1.4],[32,1.2],[39,1.3],[47,1.6],[68,1.4],[72,1.3],[3,0.7],[4,0.5],[5,1.4],[6,1],[7,0.55],[8,1.3],[9,0.7],[10,0.9],[11,1.4],[12,0.6],[13,1.1],[14,0.8],[15,1],[16,0.55],[16,1.4],[18,1.1],[19,0.65],[20,1.1],[21,0.5],[23,0.9],[24,1.15],[25,0.5],[26,1.4],[27,0.8],[28,1.3],[29,0.6],[30,0.8],[31,1.35],[32,0.9],[33,1.2],[34,0.7],[35,0.9],[36,0.6],[37,1.3],[38,1.1],[39,0.8],[40,0.5],[41,1.4],[42,0.9],[43,0.7],[44,1.3],[45,0.8],[46,1.1],[47,1.3],[48,0.7],[49,1.1],[50,0.7],[51,1.4],[52,1],[53,0.7],[54,1.3],[55,0.7],[56,1.1],[57,0.8],[58,1.3],[59,0.9],[60,1.4],[61,0.6],[62,1.1],[63,0.9],[64,1.2],[65,1.4],[66,0.8],[67,1],[68,0.7],[69,1.2],[70,0.6],[72,0.9],[73,1],[75,0.9],[76,1.2],[12,1.7],[22,1.6],[30,1.6],[40,1.7],[52,1.6],[58,1.7],[64,1.7]];
const fshFfa = [[45.7,2.17],[13,2.02],[18.3,2.02],[43.3,1.96],[23.7,1.89],[1.2,1.84],[4.7,1.8],[5.3,1.77],[40.2,1.78],[42.5,1.62],[56,1.59],[67,1.56],[29.5,1.31],[7.5,1.23],[2,1.1],[33.4,1],[8,0.97],[51.8,0.97],[63.7,0.98],[18.8,0.86],[27,0.87],[35,0.89],[53,0.87],[49.7,0.81],[74.2,0.82],[6.3,0.75],[37.7,0.75],[50,0.74],[59,0.74],[60.5,0.74],[62.5,0.78],[7,0.69],[36,0.69],[48.5,0.71],[70,0.72],[71.3,0.73],[78.5,0.67],[80.5,0.68],[106,0.63],[11.7,0.66],[27,0.67],[47,0.67],[47.5,0.65],[52,0.67],[50,0.64],[53.5,0.64],[56,0.62],[58,0.64],[63.5,0.64],[4.3,0.63],[10.5,0.62],[5,0.6],[22,0.62],[24,0.6],[27.5,0.6],[30,0.59],[35,0.59],[38,0.59],[40,0.6],[40,0.58],[47,0.59],[59,0.6],[68,0.6],[69,0.62],[70,0.58],[72,0.59],[74,0.59],[79,0.58],[82,0.6],[84,0.61],[24,0.57],[15.7,0.58],[10,0.56],[25.5,0.55],[52,0.55],[54,0.55],[62,0.55],[42,0.54],[44,0.53],[28,0.56],[38,0.53],[69,0.53],[103.5,0.53],[86,0.5],[75,0.5],[81,0.47],[114,0.48],[9,0.46],[5,0.44],[6,0.41],[14,0.43],[16,0.41],[24,0.46],[26,0.46],[33,0.45],[36,0.44],[40,0.41],[44,0.44],[51,0.41],[59,0.4],[61,0.42],[63,0.38],[66,0.39],[8,0.4],[9,0.4],[3.7,0.38],[34,0.38],[36,0.38],[38,0.38],[57,0.35],[58,0.37],[60,0.37],[74,0.36],[73,0.37],[1.3,0.31],[3,0.34],[4.5,0.35],[7,0.33],[9,0.31],[12,0.34],[13,0.32],[17,0.33],[22,0.32],[29,0.36],[33,0.33],[35,0.34],[37,0.32],[44,0.34],[47,0.36],[49,0.33],[50,0.32],[60,0.31],[81,0.34],[94,0.34],[101,0.33],[2,0.28],[5.7,0.28],[10,0.26],[20,0.31],[24,0.27],[28,0.27],[31,0.24],[33,0.3],[37,0.3],[41,0.28],[43,0.3],[48,0.3],[51,0.28],[53,0.28],[58,0.27],[68,0.3],[77,0.3],[86,0.27],[94,0.3],[5.3,0.24],[8,0.19],[15,0.24],[19,0.27],[22,0.23],[24,0.22],[26,0.2],[40,0.24],[42,0.25],[50,0.26],[64,0.25],[66,0.24],[73,0.26],[75,0.26],[79,0.23],[81,0.23],[84,0.24],[96.6,0.24],[2.8,0.18],[4,0.16],[11,0.22],[19,0.2],[41,0.21],[56,0.17],[51,0.17],[61,0.17],[65,0.18],[96,0.2],[110,0.19],[5.7,0.16],[8,0.14],[17,0.18],[16,0.14],[71,0.15],[74,0.13],[2.2,0.1],[6.5,0.1],[30,0.11],[38,0.12],[42,0.13],[47,0.1],[66,0.1],[81,0.1],[12.6,0.03],[30.5,0.03]];
const e2Ldl = [[30,5.86],[20,5.35],[20,5.26],[68,5.02],[20,4.63],[25,4.56],[70,4.52],[48,4.35],[115,4.35],[20,4.27],[68,4.24],[95,4.2],[50,4.2],[25,4.1],[75,4.05],[100,4],[152,4],[340,3.87],[70,3.87],[40,3.8],[65,3.8],[200,3.7],[130,3.62],[175,3.6],[230,3.52],[108,3.52],[125,3.5],[312,3.46],[140,3.4],[60,3.5],[85,3.4],[105,3.35],[150,3.27],[115,3.22],[215,3.14],[205,3.06],[110,3.14],[165,3],[200,2.95],[190,2.9],[1515,3.1],[255,2.78],[150,2.72],[165,2.6],[330,2.5],[370,2.58],[375,2.43],[450,2.35],[355,2.3],[380,2.27],[670,2.25],[245,2.13],[275,2.1],[125,2.6],[150,2.38],[105,2.26],[90,2.2],[60,2.2],[1052,1.71],[138,1.84],[175,1.84],[100,1.8],[70,1.8],[105,1.7],[40,1.7],[175,1.6],[180,1.55],[120,1.5],[90,1.55],[80,1.5],[240,1.5],[205,1.43],[130,1.38],[150,1.4],[90,1.38],[60,1.25],[80,1.2],[100,1.13],[135,1.25],[20,1.1],[20,1.05],[55,1],[135,1.05],[173,1.1],[250,1.15],[275,1.05],[17,4.1],[19,3.96],[16,3.85],[20,3.75],[17,3.64],[18,3.5],[21,3.4],[16,3.3],[19,3.16],[17,3],[20,2.86],[18,2.7],[16,2.56],[19,2.41],[21,2.3],[17,2.15],[18,2],[20,1.9],[16,1.8],[19,1.6],[18,1.5],[31,4],[28,3.8],[33,3.6],[29,3.42],[32,3.2],[30,3.02],[34,2.8],[27,2.6],[31,2.4],[33,2.2],[29,2.02],[30,1.82],[32,1.6],[46,3.92],[43,3.6],[48,3.35],[44,3.1],[47,2.85],[42,2.62],[45,2.35],[49,2.1],[44,1.85],[46,1.45],[60,3.65],[63,3.3],[58,3],[61,2.7],[62,2.4],[59,2.05],[57,1.75],[76,3.48],[73,3.25],[78,2.95],[74,2.6],[77,2.3],[72,2.05],[91,3.3],[88,3.05],[93,2.8],[87,2.5],[92,2.25],[89,2],[105,3.2],[108,2.85],[103,2.4],[107,2],[120,2.9],[118,2.3],[130,2.7],[142,2.3],[135,2.55],[15,4],[15,3.9],[21,3.7],[15,3.55],[22,3.45],[15,3.35],[22,3.25],[15,3.1],[21,2.95],[15,2.78],[22,2.62],[15,2.48],[22,2.35],[15,2.22],[22,2.08],[15,1.95],[21,1.72],[15,1.55],[25,3.9],[25,3.7],[25,3.55],[25,3.3],[24,3.1],[25,2.9],[24,2.75],[25,2.5],[24,2.27],[25,2.12],[25,1.85],[38,3.95],[38,3.7],[38,3.5],[38,3.3],[38,3.1],[38,2.9],[38,2.7],[38,2.5],[38,2.3],[38,2.05],[38,1.8],[52,3.75],[52,3.45],[52,3.2],[52,2.95],[52,2.7],[52,2.45],[52,2.2],[52,1.95],[68,3.4],[68,3.1],[68,2.8],[68,2.5],[68,2.2],[68,1.95],[82,3.3],[82,2.9],[82,2.6],[82,2.3],[97,3],[97,2.6],[97,2.1],[112,2.6],[125,2.4]];
const e2Hdl = [[45,3.62],[37,2.83],[20,2.54],[92,2.48],[20,2.08],[20,2.03],[20,1.98],[20,1.88],[20,1.8],[20,1.72],[70,1.84],[60,1.8],[112,1.76],[70,1.74],[95,1.68],[247,1.67],[20,1.65],[35,1.62],[70,1.6],[20,1.55],[140,1.56],[445,1.52],[370,1.49],[100,1.49],[75,1.47],[110,1.47],[40,1.45],[110,1.42],[330,1.43],[20,1.4],[60,1.38],[175,1.39],[190,1.39],[160,1.38],[215,1.36],[145,1.36],[670,1.35],[1515,1.34],[20,1.3],[155,1.32],[30,1.25],[185,1.25],[255,1.24],[1050,1.28],[210,1.18],[135,1.2],[235,1.12],[350,1.15],[340,1.12],[155,1.13],[200,1.04],[255,1],[315,1.01],[375,1],[170,1],[245,0.98],[175,0.95],[150,0.92],[130,0.9],[110,0.95],[85,0.93],[275,0.84],[80,0.85],[380,0.82],[60,0.8],[70,0.75],[90,0.72],[170,0.74],[110,0.72],[130,0.7],[65,0.69],[135,0.69],[22,0.7],[70,0.63],[275,0.62],[135,0.48],[18,1.35],[16,1.25],[19,1.15],[17,1.05],[20,0.95],[18,0.85],[16,0.78],[28,1.3],[30,1.15],[27,1.02],[29,0.9],[38,1.35],[36,1.2],[40,1.08],[37,0.96],[39,0.84],[50,1.4],[48,1.26],[52,1.13],[49,1],[51,0.88],[62,1.3],[60,1.18],[64,1.05],[61,0.93],[75,1.35],[73,1.22],[77,1.1],[74,0.98],[88,1.28],[86,1.15],[90,1.03],[87,0.85],[100,1.2],[102,1.08],[98,1],[112,1.13],[114,1.03],[125,1.1],[123,1],[135,1.15],[137,1.05],[148,1.05],[146,0.97],[160,1.08],[60,1.5],[45,1.55],[30,1.48],[85,1.55],[30,1.6],[20,1.45],[75,1.55],[100,1.35],[120,1.32],[130,1.3],[22,1.72],[16,1.62],[22,1.58],[16,1.5],[22,1.42],[15,1.3],[22,1.3],[15,1.2],[22,1.2],[15,1.1],[22,1.1],[15,1],[22,1],[15,0.9],[22,0.9],[15,0.82],[22,0.78],[33,1.38],[33,1.22],[33,1.1],[33,0.98],[33,0.85],[44,1.42],[44,1.28],[44,1.15],[44,1.02],[44,0.9],[44,0.78],[56,1.35],[56,1.2],[56,1.08],[56,0.96],[56,0.85],[68,1.25],[68,1.12],[68,1],[68,0.88],[82,1.2],[82,1.08],[82,0.96],[94,1.12],[94,1],[106,1.15],[106,1.05],[118,1.08],[130,1.05]];
const e2Tc = [[70,8.88],[25,8.15],[30,8.2],[20,8],[20,7.58],[50,7.58],[68,7.25],[20,6.96],[20,6.9],[95,6.72],[115,6.65],[50,6.65],[20,6.65],[20,6.5],[70,6.45],[60,6.38],[40,6.37],[90,6.32],[70,6.3],[25,6.25],[60,6.1],[70,6.05],[150,5.85],[200,5.85],[340,5.8],[20,6],[35,5.85],[65,5.75],[85,5.7],[40,5.65],[20,5.7],[130,5.55],[105,5.45],[140,5.42],[90,5.35],[130,5.3],[370,5.25],[215,5.2],[100,5.2],[60,5.25],[20,5.4],[40,5.4],[150,5.1],[155,5],[195,5],[235,5],[250,5],[215,4.95],[310,4.9],[1510,5],[200,4.8],[100,4.9],[120,5],[165,4.5],[195,4.45],[335,4.4],[445,4.4],[165,4.2],[670,4],[350,4],[370,3.9],[140,3.85],[140,3.75],[250,3.65],[280,3.67],[120,3.4],[115,3.25],[375,3.35],[1050,3.3],[180,3.35],[175,3.15],[105,3],[100,2.85],[130,2.95],[140,2.8],[240,2.98],[250,2.95],[150,2.7],[170,2.72],[205,2.77],[60,2.63],[85,2.63],[20,2.3],[100,2.35],[175,2.2],[140,2.1],[275,1.88],[18,6.2],[16,5.8],[19,5.4],[17,5],[20,4.7],[18,4.4],[16,4.1],[19,3.8],[17,3.5],[18,3.2],[20,2.9],[30,5.6],[28,5.1],[32,4.6],[29,4.2],[31,3.8],[27,3.4],[33,3.1],[45,5],[43,4.5],[47,4],[44,3.6],[46,3.2],[60,4.7],[58,4.2],[62,3.7],[59,3.2],[61,2.9],[75,4.8],[73,4.3],[77,3.9],[74,3.4],[90,4.6],[88,4.2],[92,3.7],[105,4.5],[103,4.1],[107,3.6],[120,4.3],[118,3.9],[135,4.2],[133,3.55],[150,4],[148,3.7],[35,5],[50,5.3],[80,5.1],[12,4.9],[15,6.4],[21,6.05],[15,5.6],[21,5.2],[15,4.85],[21,4.55],[15,4.25],[21,3.95],[15,3.65],[21,3.35],[15,3.05],[25,6],[25,5.4],[25,4.9],[25,4.45],[25,4],[25,3.6],[25,3.25],[25,2.9],[37,5.9],[37,5.3],[37,4.8],[37,4.35],[37,3.9],[37,3.5],[37,3.15],[52,5.7],[52,4.75],[52,4.3],[52,3.85],[52,3.4],[52,3],[67,5.2],[67,4.5],[67,4.05],[67,3.6],[67,3.1],[82,4.9],[82,4.45],[82,4],[82,3.55],[97,4.4],[97,3.95],[97,3.45],[112,4.3],[112,3.85],[127,4.1],[127,3.7]];
const e2Tg = [[65,25.4],[22,9.4],[62,8.4],[18,7.55],[18,6.9],[40,6.8],[110,6],[20,6.1],[30,6.1],[18,5.85],[18,5.5],[50,4.65],[200,4.6],[18,4.2],[70,4.1],[110,4.15],[275,3.85],[130,3.85],[18,3.9],[40,3.8],[95,3.4],[190,2.7],[120,3.2],[150,2.25],[250,1.9],[340,2],[360,1.9],[670,1.5],[1050,1.3],[1515,0.9],[280,1.1],[330,1.1],[370,1],[450,0.45],[250,0.65],[18,3.4],[16,3],[19,2.6],[17,2.2],[20,1.9],[18,1.6],[16,1.3],[19,1],[17,0.7],[18,0.4],[30,3.4],[28,2.8],[32,2.3],[29,1.8],[31,1.4],[27,1],[33,0.6],[45,3.3],[43,2.6],[47,2],[44,1.5],[46,1.1],[42,0.7],[60,3.1],[58,2.5],[62,1.9],[59,1.4],[61,0.9],[57,0.6],[75,3.2],[73,2.3],[77,1.5],[74,1],[90,2.8],[88,2],[92,1.2],[87,0.7],[105,2.4],[103,1.6],[107,1],[102,0.6],[120,2.6],[118,1.8],[122,1.1],[135,2.2],[133,1.3],[137,0.8],[150,1.6],[148,0.9],[152,0.5],[170,1.2],[168,0.7],[190,1],[188,0.7],[205,1.1],[215,1.6],[15,3.7],[21,3.2],[15,2.8],[21,2.4],[15,2],[21,1.7],[15,1.45],[21,1.15],[15,0.85],[21,0.55],[24,3],[24,2.5],[24,2],[24,1.6],[24,1.2],[24,0.8],[24,0.5],[37,3],[37,2.5],[37,2],[37,1.6],[37,1.2],[37,0.8],[37,0.5],[52,2.8],[52,2.2],[52,1.7],[52,1.2],[52,0.8],[67,2.8],[67,2.1],[67,1.6],[67,1.2],[67,0.8],[82,2.4],[82,1.7],[82,1.1],[82,0.7],[97,2.2],[97,1.5],[97,1.05],[97,0.7],[112,2],[112,1.4],[112,0.8],[127,1.6],[127,1],[127,0.65],[142,1.2],[142,0.7],[160,1],[160,0.65]];
const e2Ffa = [[80,2.17],[28,2.02],[45,2.01],[80,1.96],[150,1.89],[38,1.84],[20,1.78],[92,1.77],[447,1.8],[20,1.62],[20,1.59],[20,1.56],[20,1.31],[68,1.23],[272,1.1],[40,1],[20,0.97],[180,0.97],[92,0.89],[130,0.86],[28,0.87],[203,0.87],[370,0.75],[92,0.75],[20,0.82],[20,0.78],[20,0.73],[140,0.66],[165,0.63],[60,0.68],[85,0.66],[20,0.68],[130,0.6],[100,0.62],[50,0.6],[75,0.6],[130,0.52],[175,0.5],[335,0.52],[670,0.46],[375,0.41],[1515,0.55],[175,0.45],[170,0.4],[230,0.38],[250,0.33],[150,0.35],[180,0.31],[315,0.31],[340,0.32],[1050,0.31],[250,0.27],[205,0.27],[150,0.24],[230,0.2],[245,0.19],[360,0.18],[200,0.22],[160,0.16],[150,0.1],[272,0.1],[70,0.1],[20,0.1],[20,0.03],[92,0.03],[100,0.15],[120,0.15],[50,0.14],[30,0.12],[18,0.63],[16,0.55],[19,0.47],[17,0.4],[20,0.34],[18,0.28],[16,0.22],[19,0.16],[30,0.6],[28,0.5],[32,0.42],[29,0.35],[31,0.28],[27,0.2],[45,0.55],[43,0.45],[47,0.38],[44,0.3],[46,0.22],[42,0.16],[60,0.55],[58,0.42],[62,0.35],[59,0.28],[61,0.2],[75,0.48],[73,0.38],[77,0.3],[74,0.22],[76,0.16],[90,0.52],[88,0.4],[92,0.33],[87,0.25],[91,0.18],[105,0.45],[103,0.35],[107,0.27],[102,0.2],[120,0.42],[118,0.34],[122,0.28],[119,0.2],[135,0.3],[133,0.22],[150,0.3],[148,0.24],[165,0.2],[15,0.58],[21,0.51],[15,0.44],[21,0.37],[15,0.31],[21,0.25],[15,0.19],[24,0.56],[24,0.46],[24,0.38],[24,0.32],[24,0.24],[24,0.18],[37,0.58],[37,0.48],[37,0.4],[37,0.33],[37,0.26],[37,0.18],[52,0.5],[52,0.43],[52,0.36],[52,0.29],[52,0.22],[52,0.16],[67,0.52],[67,0.43],[67,0.35],[67,0.27],[67,0.2],[82,0.45],[82,0.38],[82,0.3],[82,0.23],[97,0.45],[97,0.37],[97,0.29],[97,0.22],[112,0.4],[112,0.32],[112,0.24],[127,0.36],[127,0.28],[127,0.2],[142,0.28],[142,0.22],[15,0.7],[15,0.76],[37,0.66],[52,0.62],[67,0.62]];

// fitted curves: R red, B blue, G green, and their CI half widths (c)
const lhLdlR = [2.5,2.62,2.75,2.88,3,3.13,3.38,3.75,4.18], lhLdlRc = [0.5,0.22,0.14,0.14,0.15,0.18,0.3,0.58,1.03];
const lhLdlB = [2.47,2.6,2.74,2.88,3.02,3.16,3.3,3.44,3.58], lhLdlBc = [0.22,0.15,0.1,0.08,0.1,0.14,0.2,0.27,0.34];
const lhLdlG = [2.54,2.62,2.72,2.84,2.99,3.15,3.35,3.57,3.82], lhLdlGc = [0.37,0.2,0.12,0.12,0.13,0.14,0.2,0.4,0.72];
const lhHdlR = [1.45,1.21,1.19,1.31,1.31,1.27,1.29,1.31,1.37], lhHdlRc = [0.23,0.08,0.06,0.07,0.07,0.07,0.1,0.18,0.41];
const lhHdlB = [1.23,1.24,1.25,1.26,1.27,1.28,1.29,1.305,1.32], lhHdlBc = [0.1,0.06,0.05,0.05,0.05,0.06,0.08,0.12,0.15];
const lhHdlG = [1.24,1.25,1.26,1.27,1.285,1.3,1.31,1.33,1.35], lhHdlGc = [0.13,0.09,0.05,0.05,0.05,0.06,0.09,0.16,0.29];
const lhTcR = [4.35,4.47,4.62,4.82,4.97,5.13,5.42,5.8,6.25], lhTcRc = [0.63,0.22,0.18,0.18,0.2,0.22,0.38,0.75,1.36];
const lhTcB = [4.25,4.43,4.62,4.8,4.98,5.17,5.35,5.54,5.72], lhTcBc = [0.28,0.2,0.13,0.11,0.13,0.18,0.26,0.36,0.47];
const lhTcG = [4.31,4.42,4.58,4.77,4.96,5.14,5.38,5.65,5.95], lhTcGc = [0.42,0.25,0.16,0.16,0.16,0.19,0.26,0.53,0.98];
const lhTgR = [1.6,1.95,2,1.85,1.85,2.2,2.3,2.05,1.55], lhTgRc = [1.05,0.45,0.38,0.38,0.4,0.42,0.55,1.05,2.3];
const lhTgB = [1.8,1.85,1.9,1.95,2,2.05,2.1,2.18,2.25], lhTgBc = [0.45,0.3,0.2,0.18,0.2,0.25,0.33,0.43,0.55];
const lhTgG = [1.8,1.85,1.9,1.95,2,2.1,2.15,2.2,2.3], lhTgGc = [0.7,0.45,0.25,0.25,0.25,0.3,0.4,0.7,1.05];
const lhFfaR = [0.67,0.52,0.47,0.49,0.49,0.46,0.43,0.39,0.345], lhFfaRc = [0.2,0.08,0.05,0.05,0.05,0.06,0.08,0.17,0.41];
const lhFfaB = [0.53,0.515,0.5,0.49,0.475,0.46,0.445,0.425,0.405], lhFfaBc = [0.07,0.05,0.035,0.03,0.035,0.04,0.055,0.08,0.12];
const lhFfaG = [0.525,0.515,0.5,0.485,0.47,0.455,0.435,0.415,0.39], lhFfaGc = [0.12,0.07,0.04,0.04,0.04,0.05,0.07,0.14,0.3];
const fshLdlR = [2.52,2.55,2.72,2.95,3.02,3.08,3.2,3.36,3.58], fshLdlRc = [0.36,0.12,0.12,0.14,0.14,0.15,0.15,0.35,0.77];
const fshLdlB = [2.5,2.6,2.73,2.85,3,3.1,3.22,3.36,3.48], fshLdlBc = [0.2,0.13,0.08,0.07,0.08,0.1,0.14,0.19,0.24];
const fshLdlG = [2.47,2.58,2.71,2.85,2.98,3.09,3.2,3.31,3.41], fshLdlGc = [0.27,0.14,0.11,0.1,0.1,0.11,0.14,0.3,0.58];
const fshHdlR = [1.25,1.19,1.22,1.26,1.3,1.37,1.38,1.42,1.45], fshHdlRc = [0.12,0.05,0.05,0.05,0.05,0.07,0.08,0.16,0.3];
const fshHdlB = [1.19,1.21,1.24,1.27,1.3,1.33,1.36,1.39,1.42], fshHdlBc = [0.08,0.05,0.04,0.035,0.04,0.05,0.07,0.09,0.12];
const fshHdlG = [1.21,1.21,1.22,1.26,1.3,1.34,1.38,1.44,1.5], fshHdlGc = [0.13,0.07,0.05,0.05,0.05,0.06,0.07,0.13,0.25];
const fshTcR = [4.2,4.4,4.65,4.88,4.95,5.15,5.28,5.5,5.72], fshTcRc = [0.45,0.16,0.16,0.18,0.18,0.2,0.22,0.5,1];
const fshTcB = [4.22,4.41,4.6,4.78,4.97,5.16,5.34,5.53,5.68], fshTcBc = [0.26,0.17,0.11,0.09,0.1,0.13,0.18,0.25,0.32];
const fshTcG = [4.18,4.37,4.58,4.78,4.98,5.15,5.3,5.44,5.56], fshTcGc = [0.35,0.2,0.14,0.13,0.13,0.14,0.18,0.4,0.82];
const fshTgR = [1.3,2.1,2.2,2.05,2.05,2.1,1.8,1.3,0.95], fshTgRc = [0.95,0.35,0.35,0.35,0.35,0.4,0.45,0.8,1.4];
const fshTgB = [1.85,1.9,1.95,2,2.02,2.05,2.1,2.15,2.2], fshTgBc = [0.35,0.22,0.15,0.14,0.14,0.18,0.25,0.38,0.55];
const fshTgG = [1.55,1.85,2.05,2.15,2.15,2.05,1.85,1.55,1.25], fshTgGc = [0.55,0.3,0.22,0.2,0.2,0.22,0.3,0.55,1.05];
const fshFfaR = [0.54,0.47,0.46,0.5,0.51,0.47,0.41,0.35,0.31], fshFfaRc = [0.16,0.06,0.05,0.05,0.05,0.05,0.07,0.15,0.31];
const fshFfaB = [0.52,0.51,0.5,0.49,0.48,0.46,0.45,0.435,0.42], fshFfaBc = [0.07,0.05,0.035,0.03,0.03,0.035,0.05,0.07,0.1];
const fshFfaG = [0.49,0.5,0.505,0.5,0.49,0.46,0.42,0.37,0.32], fshFfaGc = [0.1,0.06,0.04,0.04,0.04,0.045,0.06,0.12,0.25];
const e2LdlR = [3.05,2.95,2.6,2.38,2.2,2.07,1.99,2,2.15,2.5,3], e2LdlRc = [0.25,0.2,0.2,0.35,0.62,0.88,0.98,0.97,1,1.12,1.6];
const e2LdlB = [2.9,2.86,2.8,2.72,2.56,2.41,2.2,2,1.79,1.58,1.35], e2LdlBc = [0.12,0.11,0.1,0.1,0.12,0.22,0.45,0.62,0.8,0.95,1.1];
const e2LdlG = [3.03,2.92,2.75,2.55,2.25,2,1.82,1.83,2.03,2.45,3.15], e2LdlGc = [0.22,0.17,0.13,0.14,0.23,0.42,0.58,0.6,0.7,1.05,1.55];
const e2HdlR = [1.33,1.22,1.12,1.1,1.1,1.13,1.18,1.25,1.3,1.33,1.33], e2HdlRc = [0.1,0.12,0.15,0.2,0.25,0.33,0.4,0.42,0.42,0.45,0.65];
const e2HdlB = [1.28,1.27,1.257,1.24,1.205,1.17,1.125,1.08,1.03,0.99,0.94], e2HdlBc = [0.05,0.05,0.05,0.05,0.06,0.09,0.16,0.23,0.29,0.36,0.42];
const e2HdlG = [1.3,1.25,1.18,1.12,1.05,1.01,1,1.03,1.1,1.27,1.52], e2HdlGc = [0.1,0.08,0.06,0.06,0.1,0.16,0.22,0.24,0.27,0.4,0.62];
const e2TcR = [5.05,4.85,4.3,3.95,3.6,3.4,3.32,3.42,3.7,4.15,4.85], e2TcRc = [0.4,0.35,0.3,0.5,0.8,1.15,1.28,1.2,1.1,1.3,2.05];
const e2TcB = [4.9,4.83,4.73,4.6,4.35,4.09,3.76,3.42,3.08,2.75,2.4], e2TcBc = [0.2,0.18,0.17,0.16,0.2,0.33,0.65,0.92,1.15,1.3,1.45];
const e2TcG = [5,4.75,4.4,4.05,3.55,3.25,3.15,3.28,3.65,4.2,5.25], e2TcGc = [0.35,0.28,0.2,0.22,0.38,0.65,0.85,0.88,0.92,1.15,2];
const e2TgR = [2.2,2.2,1.8,1.4,0.85,0.5,0.3,0.45,0.8,1,0.95], e2TgRc = [0.7,0.6,0.55,1,1.6,2.1,2.25,2.15,2.05,2.3,3.6];
const e2TgB = [2.1,2.05,2,1.9,1.7,1.5,1.25,1,0.7,0.45,0.1], e2TgBc = [0.25,0.22,0.2,0.2,0.25,0.45,0.85,1.25,1.6,2,2.4];
const e2TgG = [2.1,2,1.85,1.65,1.4,1.15,0.95,0.85,0.85,0.95,1.15], e2TgGc = [0.4,0.3,0.25,0.3,0.5,0.85,1.15,1.25,1.35,1.85,3.4];
const e2FfaR = [0.5,0.47,0.44,0.38,0.31,0.29,0.3,0.35,0.41,0.47,0.49], e2FfaRc = [0.09,0.09,0.08,0.12,0.25,0.36,0.39,0.39,0.39,0.44,0.65];
const e2FfaB = [0.49,0.49,0.485,0.48,0.475,0.47,0.465,0.46,0.45,0.445,0.44], e2FfaBc = [0.04,0.035,0.03,0.03,0.035,0.07,0.13,0.2,0.27,0.35,0.43];
const e2FfaG = [0.49,0.48,0.47,0.46,0.45,0.44,0.44,0.45,0.47,0.5,0.55], e2FfaGc = [0.06,0.05,0.04,0.05,0.08,0.13,0.2,0.25,0.29,0.39,0.62];

const FONT = '"Liberation Sans", Arial, sans-serif';
const LH = 'LH(mIU/ml)', FSH = 'FSH(mIU/ml)', E2 = 'E2(pmol/L)';
const LDL = 'LDL-C(mmol/L)', HDL = 'HDL-C(mmol/L)', TC = 'TC(mmol/L)', TG = 'TG(mmol/L)', FFA = 'FFA(mmol/L)';

// title, x name, y name, x ticks, y ticks, label decimals, x samples, points, curves
// then left, right, top, bottom, xmin, xmax, ymin, ymax, title x, title y, y name gap, clip x tick label
const panels = [
  ['R²=0.064\nP<0.001',LH,LDL,lhTicks,[1,2,3,4,5,6],0,lhX,lhLdl,lhLdlR,lhLdlRc,lhLdlB,lhLdlBc,lhLdlG,lhLdlGc, 83,747,66,923,-2.94,66.7,0.756,6.09,398,0,43,0],
  ['R²=0.003\nP=0.336',LH,HDL,lhTicks,[1,2,3],0,lhX,lhHdl,lhHdlR,lhHdlRc,lhHdlB,lhHdlBc,lhHdlG,lhHdlGc, 848,1514,66,923,-2.73,67.2,0.366,3.763,1170,0,46,0],
  ['R²=0.066\nP<0.001',LH,TC,lhTicks,[2,4,6,8],0,lhX,lhTc,lhTcR,lhTcRc,lhTcB,lhTcBc,lhTcG,lhTcGc, 1614,2284,66,923,-2.94,68.1,1.52,9.2,1952,0,45,0],
  ['R²=0.002\nP=0.459',LH,TG,lhTicks,[0,10,20],0,lhX,lhTg,lhTgR,lhTgRc,lhTgB,lhTgBc,lhTgG,lhTgGc, 2401,3050,66,923,-2.8,67.5,-2.12,26.7,2722,0,62,0],
  ['R²=0.006\nP=0.198',LH,FFA,lhTicks,[0,0.5,1,1.5,2],1,lhX,lhFfa,lhFfaR,lhFfaRc,lhFfaB,lhFfaBc,lhFfaG,lhFfaGc, 3175,3821,66,923,-2.84,67.8,-0.18,2.27,3475,0,71,0],
  ['R²=0.062\nP<0.001',FSH,LDL,fshTicks,[1,2,3,4,5,6],0,fshX,fshLdl,fshLdlR,fshLdlRc,fshLdlB,fshLdlBc,fshLdlG,fshLdlGc, 83,743,1138,1995,-4.76,120.9,0.756,6.09,399,1070,44,1],
  ['R²=0.023\nP=0.008',FSH,HDL,fshTicks,[1,2,3],0,fshX,fshHdl,fshHdlR,fshHdlRc,fshHdlB,fshHdlBc,fshHdlG,fshHdlGc, 843,1515,1136,1993,-4.75,122.8,0.366,3.763,1160,1070,44,1],
  ['R²=0.081\nP<0.001',FSH,TC,fshTicks,[2,4,6,8],0,fshX,fshTc,fshTcR,fshTcRc,fshTcB,fshTcBc,fshTcG,fshTcGc, 1613,2282,1136,1993,-4.56,122.7,1.537,9.2,1924,1070,43,1],
  ['R²=0.002\nP=0.473',FSH,TG,fshTicks,[0,10,20],0,fshX,fshTg,fshTgR,fshTgRc,fshTgB,fshTgBc,fshTgG,fshTgGc, 2399,3054,1136,1993,-4.68,123,-1.79,26.7,2719,1072,60,0],
  ['R²=0.004\nP=0.271',FSH,FFA,fshTicks,[0,0.5,1,1.5,2],1,fshX,fshFfa,fshFfaR,fshFfaRc,fshFfaB,fshFfaBc,fshFfaG,fshFfaGc, 3179,3824,1136,1995,-4.35,123.1,-0.097,2.275,3480,1072,70,0],
  ['R²=0.024\nP=0.007',E2,LDL,e2Ticks,[0,2,4,6],0,e2X,e2Ldl,e2LdlR,e2LdlRc,e2LdlB,e2LdlBc,e2LdlG,e2LdlGc, 83,741,2213,3069,-56,1554,-0.053,6.13,392,2145,43,1],
  ['R²=0.008\nP=0.127',E2,HDL,e2Ticks,[1,2,3],0,e2X,e2Hdl,e2HdlR,e2HdlRc,e2HdlB,e2HdlBc,e2HdlG,e2HdlGc, 840,1507,2213,3069,-54,1573,0.355,3.766,1161,2145,46,1],
  ['R²=0.032\nP=0.002',E2,TC,e2Ticks,[2.5,5,7.5],1,e2X,e2Tc,e2TcR,e2TcRc,e2TcB,e2TcBc,e2TcG,e2TcGc, 1631,2277,2213,3069,-56,1580,0.6,9.24,1923,2145,69,0],
  ['R²=0.007\nP=0.138',E2,TG,e2Ticks,[0,10,20],0,e2X,e2Tg,e2TgR,e2TgRc,e2TgB,e2TgBc,e2TgG,e2TgGc, 2401,3055,2213,3069,-55,1590,-4.12,26.8,2715,2149,62,0],
  ['R²=0.0001\nP=0.824',E2,FFA,e2Ticks,[0,0.5,1,1.5,2],1,e2X,e2Ffa,e2FfaR,e2FfaRc,e2FfaB,e2FfaBc,e2FfaG,e2FfaGc, 3185,3831,2213,3069,-53,1583,-0.286,2.276,3480,2147,68,0]
];

function band(i, xs, fit, ci, z) {
  const up = xs.map((x, k) => [x, fit[k] + ci[k]]);
  const lo = xs.map((x, k) => [x, fit[k] - ci[k]]).reverse();
  return {
    type: 'custom', xAxisIndex: i, yAxisIndex: i, clip: true, silent: true, z: z, data: [[0, 0]],
    renderItem: (params, api) => {
      const a = up.map(p => api.coord(p)), b = lo.map(p => api.coord(p));
      // end points doubled so the smoothing keeps the vertical ends square
      const pts = [a[0], ...a, a[a.length - 1], b[0], ...b, b[b.length - 1]];
      return {type: 'polygon', shape: {points: pts, smooth: 0.33}, style: {fill: 'rgba(153,153,153,0.4)'}};
    }
  };
}
function curve(i, xs, fit, color, z) {
  return {
    type: 'line', xAxisIndex: i, yAxisIndex: i, z: z, data: xs.map((x, k) => [x, fit[k]]),
    smooth: 0.3, showSymbol: false, silent: true, lineStyle: {color: color, width: 7, cap: 'butt'}
  };
}

const option = {animation: false, backgroundColor: '#fff', title: [], grid: [], xAxis: [], yAxis: [], series: [], graphic: []};
panels.forEach((p, i) => {
  const [text, xName, yName, xTicks, yTicks, dec, xs, pts, r, rc, b, bc, g, gc,
    left, right, top, bottom, xmin, xmax, ymin, ymax, tx, ty, yGap, clipLabel] = p;
  option.title.push({text: text, left: tx, top: ty, padding: 0, textAlign: 'center',
    textStyle: {fontFamily: FONT, fontSize: 49, fontWeight: 'bold', color: '#000', lineHeight: 49}});
  option.grid.push({left: left, top: top, width: right - left, height: bottom - top, containLabel: false, outerBoundsMode: 'none'});
  const tickStyle = {show: true, length: 8, lineStyle: {color: '#333', width: 3}};
  option.xAxis.push({type: 'value', gridIndex: i, min: xmin, max: xmax, name: xName, nameLocation: 'middle', nameGap: 52,
    nameTextStyle: {fontFamily: FONT, fontSize: 38, color: '#000'},
    axisLine: {onZero: false, lineStyle: {color: '#000', width: 3}},
    axisTick: {...tickStyle, customValues: xTicks},
    axisLabel: {customValues: xTicks, margin: 14, fontFamily: FONT, fontSize: 30, color: '#4d4d4d', formatter: v => String(v)},
    splitLine: {show: false}});
  option.yAxis.push({type: 'value', gridIndex: i, min: ymin, max: ymax, name: yName, nameLocation: 'middle', nameGap: yGap,
    nameTextStyle: {fontFamily: FONT, fontSize: 38, color: '#000'},
    axisLine: {onZero: false, lineStyle: {color: '#000', width: 3}},
    axisTick: {...tickStyle, customValues: yTicks},
    axisLabel: {customValues: yTicks, margin: 14, fontFamily: FONT, fontSize: 30, color: '#4d4d4d', formatter: v => Number(v).toFixed(dec)},
    splitLine: {show: false}});
  option.series.push({type: 'scatter', xAxisIndex: i, yAxisIndex: i, z: 2, data: pts, symbolSize: 17.5, clip: false, silent: true,
    itemStyle: {color: '#000', opacity: 1}});
  // each ribbon covers the curves drawn before it, as in the original
  option.series.push(band(i, xs, r, rc, 3), curve(i, xs, r, '#ff0000', 4));
  option.series.push(band(i, xs, b, bc, 5), curve(i, xs, b, '#0000ff', 6));
  option.series.push(band(i, xs, g, gc, 7), curve(i, xs, g, '#00cd00', 8));
  if (clipLabel) {
    // the last x tick label runs off its panel in the original
    option.graphic.push({type: 'rect', z: 100, shape: {x: right + 1, y: bottom + 10, width: 26, height: 36}, style: {fill: '#fff'}});
  }
});

const chart = echarts.init(document.getElementById('main'), null, {renderer: 'canvas', width: 3839, height: 3163});
chart.setOption(option);
</script>
</body>
</html>
